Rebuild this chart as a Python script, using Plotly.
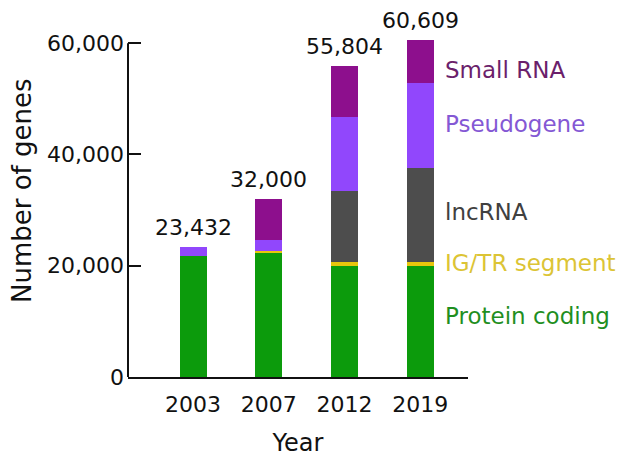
import plotly.graph_objects as go

years = ["2003", "2007", "2012", "2019"]
totals = [23432, 32000, 55804, 60609]
protein_coding = [21800, 22200, 20000, 19950]
ig_tr_segment = [0, 400, 700, 650]
lncrna = [0, 0, 12800, 16900]
pseudogene = [1632, 2100, 13300, 15300]
small_rna = [0, 7300, 9004, 7809]

series = [
    ("Protein coding", protein_coding, "#0c9b0c", "#1f8f1f"),
    ("IG/TR segment", ig_tr_segment, "#e8c60c", "#dcc435"),
    ("lncRNA", lncrna, "#4d4d4d", "#404040"),
    ("Pseudogene", pseudogene, "#9147fc", "#8458d4"),
    ("Small RNA", small_rna, "#8d0f8d", "#6b1f6b"),
]
label_y = [10970, 20500, 29670, 45490, 55200]

FONT = "DejaVu Sans"
xpos = list(range(len(years)))

W, H = 623, 466
ML, MR, MT, MB = 128, 155, 32, 89
plot_w = W - ML - MR
plot_h = H - MT - MB

fig = go.Figure()
for name, vals, col, _ in series:
    fig.add_trace(go.Bar(x=xpos, y=vals, name=name, marker=dict(color=col, line=dict(width=0)),
                         width=0.355, showlegend=False, hoverinfo="skip"))

ann = []
for i, t in enumerate(totals):
    ann.append(dict(x=xpos[i], y=t, xref="x", yref="y", text=f"{t:,}", showarrow=False,
                    yanchor="bottom", yshift=5, font=dict(family=FONT, size=22, color="#111")))
for (name, vals, col, tcol), ly in zip(series, label_y):
    ann.append(dict(x=(443 - ML) / plot_w, y=ly, xref="paper", yref="y", text=name, showarrow=False,
                    xanchor="left", yanchor="middle", font=dict(family=FONT, size=23, color=tcol)))
ann.append(dict(x=(22 - ML) / plot_w, y=(H - MB - 191) / plot_h, xref="paper", yref="paper",
                text="Number of genes", showarrow=False, xanchor="center", yanchor="middle",
                textangle=-90, font=dict(family=FONT, size=26, color="#111")))

fig.update_layout(
    width=W, height=H,
    margin=dict(l=ML, r=MR, t=MT, b=MB),
    plot_bgcolor="white", paper_bgcolor="white",
    barmode="stack",
    annotations=ann,
    xaxis=dict(range=[-0.86, 3.63], tickvals=xpos, ticktext=years, showline=True, linecolor="#111",
               linewidth=2, ticks="", showgrid=False, zeroline=False, ticklabelstandoff=7,
               tickfont=dict(family=FONT, size=22, color="#111"),
               title=dict(text="Year", font=dict(family=FONT, size=24, color="#111"), standoff=18)),
    yaxis=dict(range=[0, 62000], tickvals=[0, 20000, 40000, 60000],
               ticktext=["0", "20,000", "40,000", "60,000"], ticks="inside", ticklen=13,
               tickwidth=2, tickcolor="#111", showline=False, showgrid=False, zeroline=False,
               ticklabelstandoff=3,
               tickfont=dict(family=FONT, size=22, color="#111")),
    shapes=[dict(type="line", xref="paper", yref="y", x0=0, x1=0, y0=0, y1=60000,
                 line=dict(color="#111", width=2))],
)

fig.write_html("out.html", config={"displayModeBar": False, "staticPlot": True})

with open("out.html", "r", encoding="utf-8") as f:
    html = f.read()
html = html.replace("<head>", "<head><style>html,body{margin:0;padding:0;}</style>", 1)
with open("out.html", "w", encoding="utf-8") as f:
    f.write(html)
